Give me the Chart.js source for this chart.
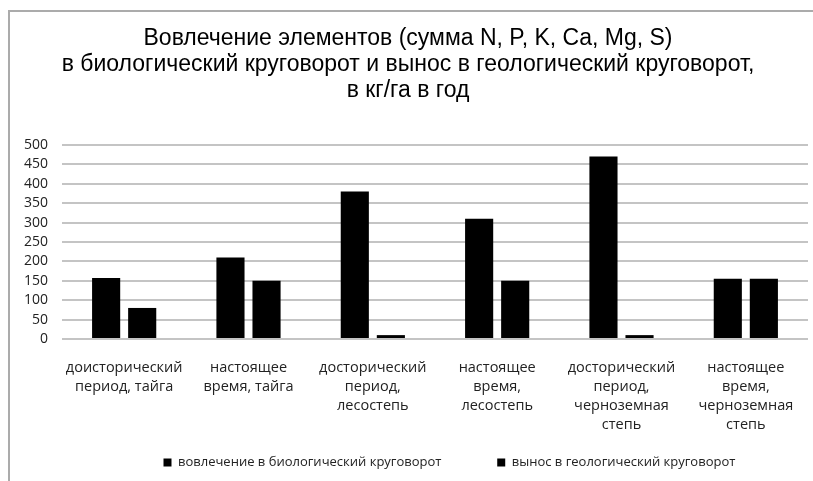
<!DOCTYPE html>
<html>
<head>
<meta charset="utf-8">
<script src="https://cdn.jsdelivr.net/npm/chart.js@4"></script>
<style>
  html, body { margin: 0; padding: 0; background: #fff; }
  #wrap { position: relative; width: 813px; height: 481px; overflow: hidden; }
  #frame { position: absolute; left: 8px; top: 10px; right: -10px; bottom: -10px;
           border-top: 2px solid #ababab; border-left: 2px solid #ababab; pointer-events: none; }
  canvas { position: absolute; left: 0; top: 0; }
</style>
</head>
<body>
<div id="wrap">
  <canvas id="c" width="813" height="481"></canvas>
  <div id="frame"></div>
</div>
<script>
const titleLines = [
  "Вовлечение элементов (сумма N, P, K, Ca, Mg, S)",
  "в биологический круговорот и вынос в геологический круговорот,",
  "в кг/га в год"
];
const categories = [
  ["доисторический", "период, тайга"],
  ["настоящее", "время, тайга"],
  ["досторический", "период,", "лесостепь"],
  ["настоящее", "время,", "лесостепь"],
  ["досторический", "период,", "черноземная", "степь"],
  ["настоящее", "время,", "черноземная", "степь"]
];
const seriesNames = ["вовлечение в биологический круговорот", "вынос в геологический круговорот"];
const bioValues = [157, 210, 380, 310, 470, 155];
const geoValues = [80, 150, 10, 150, 10, 155];
const yTicks = [0, 50, 100, 150, 200, 250, 300, 350, 400, 450, 500];

const tickFont = "'Open Sans', 'DejaVu Sans', sans-serif";
const legendTrail = [10, 15];

new Chart(document.getElementById('c'), {
  type: 'bar',
  data: {
    labels: categories,
    datasets: [
      { label: seriesNames[0], data: bioValues, backgroundColor: '#000', borderWidth: 0,
        categoryPercentage: 0.58, barPercentage: 0.78 },
      { label: seriesNames[1], data: geoValues, backgroundColor: '#000', borderWidth: 0,
        categoryPercentage: 0.58, barPercentage: 0.78 }
    ]
  },
  options: {
    responsive: false,
    animation: false,
    layout: { padding: { left: 8, right: 5, top: 0, bottom: 2 } },
    plugins: {
      title: {
        display: true,
        text: titleLines,
        color: '#000',
        font: { family: "'Liberation Sans', Arial, sans-serif", size: 23, weight: 'normal', lineHeight: 1.13 },
        padding: { top: 26, bottom: 41 }
      },
      legend: {
        position: 'bottom',
        align: 'end',
        fullSize: false,
        labels: {
          color: '#222',
          font: { family: tickFont, size: 13 },
          boxWidth: 8, boxHeight: 8,
          padding: 22,
          generateLabels: (chart) => {
            const items = Chart.defaults.plugins.legend.labels.generateLabels(chart);
            items.forEach((it, i) => { it.text = it.text + '\u00a0'.repeat(legendTrail[i] || 0); it.lineWidth = 0; });
            return items;
          }
        }
      },
      tooltip: { enabled: false }
    },
    scales: {
      x: {
        grid: { display: false },
        border: { display: false },
        ticks: {
          color: '#222', maxRotation: 0, autoSkip: false,
          font: { family: tickFont, size: 14.5, lineHeight: 1.31 },
          padding: 11
        },
        afterFit: (s) => { s.height = 95; }
      },
      y: {
        min: 0, max: 500,
        afterBuildTicks: (s) => { s.ticks = yTicks.map(v => ({ value: v })); },
        grid: { color: '#c4c4c4', lineWidth: 2, drawTicks: false },
        border: { display: false },
        ticks: {
          color: '#222', autoSkip: false,
          font: { family: tickFont, size: 14 },
          padding: 14
        },
        afterFit: (s) => { s.width = 54; }
      }
    }
  }
});
</script>
</body>
</html>
